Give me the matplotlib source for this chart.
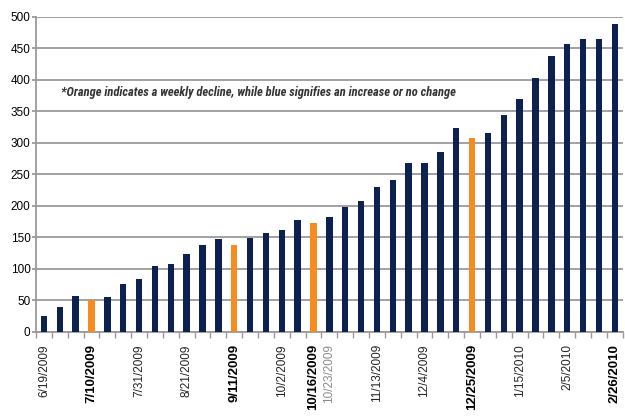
import numpy as np
import matplotlib.pyplot as plt

plt.rcParams['font.family'] = ['Liberation Sans', 'DejaVu Sans']

# weekly counts, 6/19/2009 .. 2/26/2010
counts = [25, 40, 57, 50, 55, 76, 83, 105, 108, 124, 138, 147, 138, 149,
          157, 161, 177, 173, 182, 198, 207, 230, 241, 267, 267, 286, 324,
          308, 315, 344, 370, 403, 437, 457, 465, 465, 488]
tick_pos = [0, 3, 6, 9, 12, 15, 17, 18, 21, 24, 27, 30, 33, 36]
tick_labels = ['6/19/2009', '7/10/2009', '7/31/2009', '8/21/2009', '9/11/2009',
               '10/2/2009', '10/16/2009', '10/23/2009', '11/13/2009',
               '12/4/2009', '12/25/2009', '1/15/2010', '2/5/2010', '2/26/2010']
note = '*Orange indicates a weekly decline, while blue signifies an increase or no change'

NAVY = '#0c2150'
ORANGE = '#f68b1f'
GRID = '#9a9a9a'

x = np.arange(len(counts))
cols = [NAVY] + [ORANGE if counts[i] < counts[i - 1] else NAVY for i in range(1, len(counts))]

fig = plt.figure(figsize=(6.25, 4.16), dpi=100)
ax = fig.add_axes([36 / 625, 1 - 331.7 / 416, (622.7 - 36) / 625, (331.7 - 16.7) / 416])

ax.bar(x, counts, width=0.4, color=cols, zorder=3, clip_on=False)
ax.set_ylim(0, 500)
ax.set_xlim(-0.29, 36.15)
ax.set_yticks(np.arange(0, 501, 50))
ax.yaxis.grid(True, color=GRID, lw=1.3, zorder=0)
ax.tick_params(axis='y', length=3, color=GRID, width=1.3, labelsize=8.5, pad=1)

for s in ['top', 'right']:
    ax.spines[s].set_visible(False)
for s in ['left', 'bottom']:
    ax.spines[s].set_color(GRID)
    ax.spines[s].set_linewidth(1.3)

# little ticks between the weekly bars
ax.set_xticks(np.arange(-0.5, len(counts), 1.0), minor=True)
ax.tick_params(axis='x', which='minor', length=4, color=GRID, width=1)
ax.set_xticks(tick_pos)
ax.set_xticklabels(tick_labels, rotation=90, va='top', ha='center')
ax.tick_params(axis='x', which='major', length=0, pad=9)
for p, lab in zip(tick_pos, ax.get_xticklabels()):
    if cols[p] == ORANGE or p == len(counts) - 1:
        lab.set_fontweight('bold')
        lab.set_fontsize(9.5)
    else:
        lab.set_fontsize(8.5)
        lab.set_color('#222222')
    if lab.get_text() == '10/23/2009':
        lab.set_color('#8a8a8a')

ax.text(1.08, 379, note, fontsize=9, fontstyle='italic', fontweight='bold',
        fontstretch='condensed',
        family=['Liberation Sans Narrow', 'Roboto Condensed', 'DejaVu Sans'],
        color='#333333', va='center', ha='left', zorder=4)

fig.savefig('out.png', dpi=100)
